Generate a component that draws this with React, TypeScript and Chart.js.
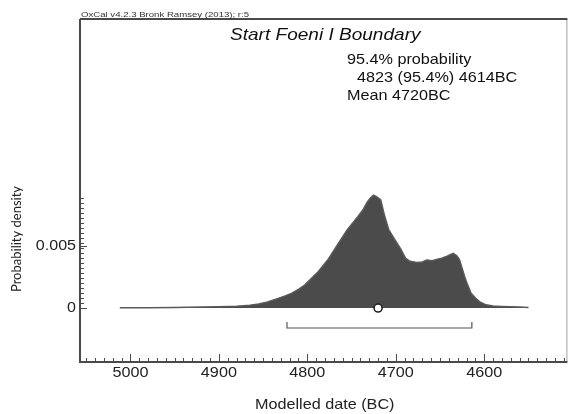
import React, { useEffect, useRef } from "react";
import { Chart, registerables } from "chart.js";

Chart.register(...registerables);

// Calendar years (BC) and modelled probability density
const yearsBC = [
  5012, 4980, 4950, 4920, 4900, 4880, 4865, 4855, 4845, 4833, 4825, 4818, 4810, 4803, 4795, 4788,
  4777, 4766, 4755, 4743, 4737, 4732, 4728, 4725, 4721, 4717, 4713, 4708, 4702, 4695, 4689, 4684,
  4676, 4670, 4665, 4659, 4654, 4648, 4642, 4638, 4635, 4631, 4628, 4622, 4619, 4615, 4610, 4605,
  4598, 4590, 4580, 4570, 4560, 4550,
];
const density = [
  0.00002, 0.00003, 0.00005, 0.00008, 0.0001, 0.00015, 0.00022, 0.00032, 0.00048, 0.00078, 0.00098,
  0.00118, 0.0015, 0.00185, 0.0024, 0.0029, 0.00385, 0.00506, 0.00626, 0.00733, 0.0079, 0.00853,
  0.0089, 0.00907, 0.0089, 0.00867, 0.0075, 0.0063, 0.0056, 0.0048, 0.004, 0.00375, 0.00366, 0.0037,
  0.00385, 0.0038, 0.0039, 0.004, 0.00417, 0.0043, 0.00439, 0.0042, 0.0039, 0.0025, 0.0019, 0.0012,
  0.0008, 0.0005, 0.00026, 0.00016, 0.00013, 0.0001, 0.00008, 0.00005,
];

// 95.4% range and mean
const rangeFromBC = 4823;
const rangeToBC = 4614;
const meanBC = 4720;

const xTickLabels = [5000, 4900, 4800, 4700, 4600];
const yTickLabels = [0, 0.005];

const headerText = "OxCal v4.2.3 Bronk Ramsey (2013); r:5";
const titleText = "Start Foeni I Boundary";
const infoLines = ["95.4% probability", "4823 (95.4%) 4614BC", "Mean 4720BC"];
const xTitle = "Modelled date (BC)";
const yTitle = "Probability density";

const X_MIN = -5057;
const X_MAX = -4506;
const Y_MIN = -0.00433;
const Y_MAX = 0.0232;

function drawText(
  ctx: CanvasRenderingContext2D,
  text: string,
  x: number,
  y: number,
  font: string,
  align: CanvasTextAlign,
  sx: number,
  color: string,
  baseline: CanvasTextBaseline = "alphabetic"
) {
  ctx.save();
  ctx.translate(x, y);
  ctx.scale(sx, 1);
  ctx.font = font;
  ctx.fillStyle = color;
  ctx.textAlign = align;
  ctx.textBaseline = baseline;
  ctx.fillText(text, 0, 0);
  ctx.restore();
}

const decorPlugin = {
  id: "oxcalDecor",
  afterDraw(chart: any) {
    const ctx: CanvasRenderingContext2D = chart.ctx;
    const area = chart.chartArea;
    const xs = chart.scales.x;
    const ys = chart.scales.y;
    const axisColor = "#4a4a4a";

    ctx.save();
    // frame
    ctx.strokeStyle = "#a0a0a0";
    ctx.lineWidth = 1;
    ctx.beginPath();
    ctx.moveTo(area.right - 0.5, area.top);
    ctx.lineTo(area.right - 0.5, area.bottom);
    ctx.stroke();

    ctx.strokeStyle = axisColor;
    ctx.lineWidth = 2;
    ctx.beginPath();
    ctx.moveTo(area.left, area.top);
    ctx.lineTo(area.right, area.top);
    ctx.moveTo(area.left, area.top);
    ctx.lineTo(area.left, area.bottom);
    ctx.lineTo(area.right, area.bottom);
    ctx.stroke();

    // x ticks (inward)
    ctx.lineWidth = 1;
    ctx.strokeStyle = axisColor;
    ctx.beginPath();
    for (let v = -5050; v <= -4510; v += 10) {
      const px = Math.round(xs.getPixelForValue(v)) + 0.5;
      const major = Math.round(v) % 100 === 0;
      const len = major ? 8 : 4;
      ctx.moveTo(px, area.bottom);
      ctx.lineTo(px, area.bottom - len);
    }
    ctx.stroke();

    // y ticks (inward)
    ctx.beginPath();
    for (let i = 0; i * 0.0004 <= 0.0089; i++) {
      const py = Math.round(ys.getPixelForValue(i * 0.0004)) + 0.5;
      ctx.moveTo(area.left, py);
      ctx.lineTo(area.left + 4, py);
    }
    for (const v of yTickLabels) {
      const py = Math.round(ys.getPixelForValue(v)) + 0.5;
      ctx.moveTo(area.left, py);
      ctx.lineTo(area.left + 7, py);
    }
    ctx.stroke();
    ctx.restore();

    const tickFont = '15px "Liberation Sans", Arial, sans-serif';
    for (const t of xTickLabels) {
      drawText(ctx, String(t), xs.getPixelForValue(-t), area.bottom + 15, tickFont, "center", 1.08, "#222");
    }
    for (const t of yTickLabels) {
      drawText(ctx, String(t), area.left - 4, ys.getPixelForValue(t), tickFont, "right", 1.07, "#222", "middle");
    }

    drawText(ctx, xTitle, (area.left + area.right) / 2 + 1, 409, tickFont, "center", 1.08, "#222");

    ctx.save();
    ctx.translate(17, 239);
    ctx.rotate(-Math.PI / 2);
    ctx.font = '13px Lato, "Noto Sans", sans-serif';
    ctx.fillStyle = "#222";
    ctx.textAlign = "center";
    ctx.textBaseline = "middle";
    ctx.fillText(yTitle, 0, 0);
    ctx.restore();

    drawText(ctx, headerText, area.left + 1, 17, '8px "Liberation Sans", Arial, sans-serif', "left", 1.2, "#333");
    drawText(ctx, titleText, 230, 40, 'italic 17px "Liberation Sans", Arial, sans-serif', "left", 1.12, "#111");
    drawText(ctx, infoLines[0], 347, 63.5, tickFont, "left", 1.08, "#111");
    drawText(ctx, infoLines[1], 357, 82, tickFont, "left", 1.08, "#111");
    drawText(ctx, infoLines[2], 347, 100, tickFont, "left", 1.08, "#111");
  },
};

export default function App() {
  const canvasRef = useRef<HTMLCanvasElement | null>(null);

  useEffect(() => {
    document.body.style.margin = "0";
    const canvas = canvasRef.current;
    if (!canvas) return;

    const densityPoints = yearsBC.map((yr, i) => ({ x: -yr, y: density[i] }));
    const bracketPoints = [
      { x: -rangeFromBC, y: -0.00112 },
      { x: -rangeFromBC, y: -0.0016 },
      { x: -rangeToBC, y: -0.0016 },
      { x: -rangeToBC, y: -0.00112 },
    ];

    const chart = new Chart(canvas, {
      type: "scatter",
      data: {
        datasets: [
          {
            data: densityPoints,
            showLine: true,
            fill: "origin",
            backgroundColor: "#4b4b4b",
            borderColor: "#5a5a5a",
            borderWidth: 1.5,
            pointRadius: 0,
            tension: 0,
            order: 3,
          },
          {
            data: bracketPoints,
            showLine: true,
            fill: false,
            borderColor: "#555",
            borderWidth: 1.2,
            pointRadius: 0,
            order: 2,
          },
          {
            data: [{ x: -meanBC, y: 0 }],
            pointRadius: 4,
            pointBackgroundColor: "#ffffff",
            pointBorderColor: "#222",
            pointBorderWidth: 1.6,
            showLine: false,
            order: 0,
          },
        ],
      } as any,
      options: {
        responsive: false,
        animation: false,
        layout: { padding: { left: 80, top: 19, right: 1, bottom: 52 } },
        plugins: { legend: { display: false }, tooltip: { enabled: false } },
        scales: {
          x: { type: "linear", min: X_MIN, max: X_MAX, display: false },
          y: { type: "linear", min: Y_MIN, max: Y_MAX, display: false },
        },
      },
      plugins: [decorPlugin],
    });

    return () => chart.destroy();
  }, []);

  return (
    <div style={{ width: 573, height: 414 }}>
      <canvas ref={canvasRef} width={573} height={414} style={{ display: "block" }} />
    </div>
  );
}
